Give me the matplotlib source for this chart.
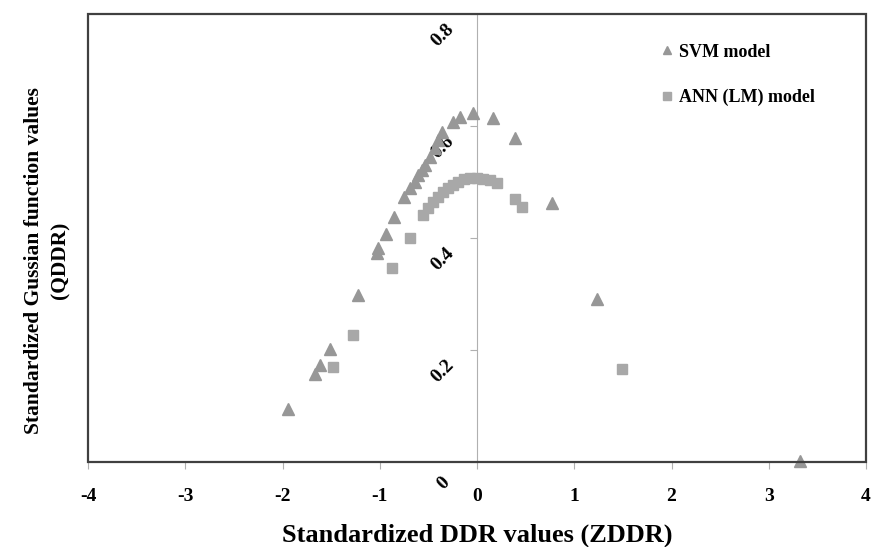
import matplotlib
matplotlib.use("Agg")
import matplotlib.pyplot as plt
from matplotlib.patches import Rectangle
from matplotlib.transforms import ScaledTranslation

# valeurs
svm_z = [-1.94, -1.665, -1.61, -1.51, -1.22, -1.03, -1.02, -0.935, -0.85, -0.75,
         -0.69, -0.64, -0.61, -0.565, -0.535, -0.48, -0.43, -0.40, -0.36, -0.25,
         -0.175, -0.04, 0.165, 0.39, 0.77, 1.23, 3.32]
svm_q = [0.095, 0.157, 0.173, 0.202, 0.298, 0.373, 0.382, 0.407, 0.4375, 0.473,
         0.489, 0.50, 0.512, 0.521, 0.530, 0.545, 0.561, 0.575, 0.589, 0.607,
         0.616, 0.623, 0.614, 0.579, 0.4625, 0.291, 0.002]

ann_z = [-1.48, -1.275, -0.875, -0.69, -0.555, -0.50, -0.45, -0.40, -0.35, -0.30,
         -0.245, -0.195, -0.135, -0.07, 0.0, 0.06, 0.135, 0.205, 0.39, 0.46, 1.49]
ann_q = [0.170, 0.227, 0.346, 0.400, 0.441, 0.454, 0.464, 0.473, 0.482, 0.489,
         0.495, 0.500, 0.505, 0.507, 0.507, 0.505, 0.504, 0.498, 0.470, 0.455, 0.166]

x_ticks = [-4, -3, -2, -1, 0, 1, 2, 3, 4]
y_ticks = [0, 0.2, 0.4, 0.6, 0.8]
y_labels = ['0', '0.2', '0.4', '0.6', '0.8']

plt.rcParams['font.family'] = 'Liberation Serif'
plt.rcParams['font.weight'] = 'bold'

fig = plt.figure(figsize=(8.73, 5.47), dpi=100)
ax = fig.add_axes([0.1008, 0.1554, 0.8912, 0.819])

ax.plot(svm_z, svm_q, linestyle='none', marker='^', ms=8, color='#979797',
        mec='#979797', label='SVM model', clip_on=False, zorder=3)
ax.plot(ann_z, ann_q, linestyle='none', marker='s', ms=7, color='#a8a8a8',
        mec='#a8a8a8', label='ANN (LM) model', clip_on=False, zorder=3)

ax.set_xlim(-4, 4)
ax.set_ylim(0, 0.8)

# axe y au milieu (x=0)
ax.spines['left'].set_position(('data', 0))
ax.spines['left'].set_color('#b0b0b0')
ax.spines['left'].set_linewidth(0.8)
for s in ['top', 'right', 'bottom']:
    ax.spines[s].set_visible(False)

# cadre du graphique
ax.add_patch(Rectangle((0, 0), 1, 1, transform=ax.transAxes, fill=False,
                       edgecolor='#404040', lw=1.6, clip_on=False, zorder=4))

ax.set_xticks(x_ticks)
ax.set_xticklabels([str(v) for v in x_ticks], fontsize=14, fontweight='bold')
ax.tick_params(axis='x', length=5, width=0.8, color='#b0b0b0', pad=14)

ax.set_yticks(y_ticks)
ax.set_yticklabels(y_labels, fontsize=14, fontweight='bold', rotation=45,
                   ha='center', va='center', rotation_mode='anchor')
ax.tick_params(axis='y', length=5, width=0.8, color='#b0b0b0', pad=0)
for lab in ax.get_yticklabels():
    lab.set_transform(lab.get_transform() + ScaledTranslation(-0.27, -0.21, fig.dpi_scale_trans))

ax.set_xlabel('Standardized DDR values (ZDDR)', fontsize=19, fontweight='bold', labelpad=13)
ax.set_ylabel('Standardized Gussian function values\n(QDDR)', fontsize=15.5,
              fontweight='bold', linespacing=1.45)
ax.yaxis.set_label_coords(-0.022, 0.45)

ax.legend(loc='upper left', bbox_to_anchor=(0.715, 0.97), frameon=False,
          labelspacing=1.55, handlelength=0.7, handletextpad=0.3,
          markerscale=0.75, prop={'weight': 'bold', 'size': 13})

fig.savefig('out.png', dpi=100)
